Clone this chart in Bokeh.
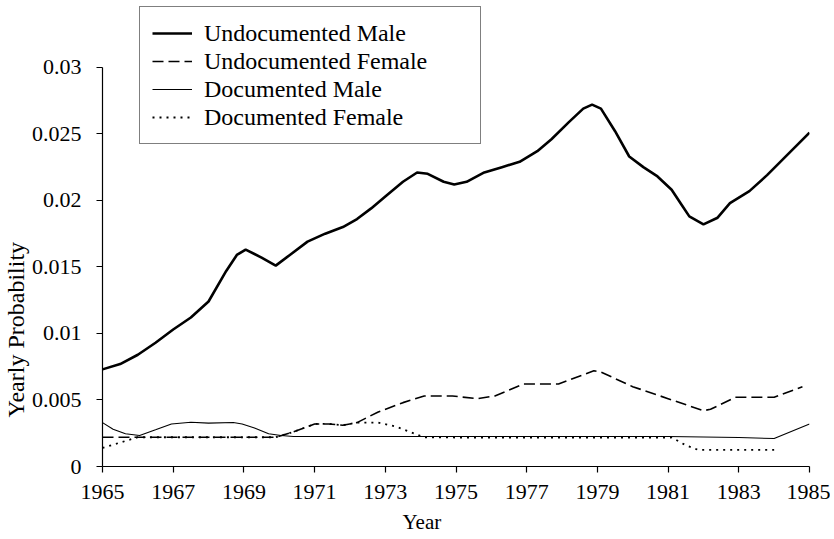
from bokeh.plotting import figure
from bokeh.models import Range1d, FixedTicker, Legend, LegendItem, Title
from bokeh.embed import file_html
from bokeh.resources import INLINE

FONT = "Liberation Serif"

# ---- data ----
x_ticks = [1965, 1967, 1969, 1971, 1973, 1975, 1977, 1979, 1981, 1983, 1985]
x_tick_labels = ["1965", "1967", "1969", "1971", "1973", "1975", "1977", "1979", "1981", "1983", "1985"]
y_ticks = [0, 0.005, 0.01, 0.015, 0.02, 0.025, 0.03]
y_tick_labels = ["0", "0.005", "0.01", "0.015", "0.02", "0.025", "0.03"]

series_names = ["Undocumented Male", "Undocumented Female", "Documented Male", "Documented Female"]

undoc_male_year = [1965, 1965.5, 1966, 1966.5, 1967, 1967.5, 1968, 1968.5, 1968.8, 1969.05, 1969.5,
                   1969.9, 1970.3, 1970.8, 1971.3, 1971.8, 1972.2, 1972.6, 1973.0, 1973.5, 1973.9,
                   1974.2, 1974.65, 1974.95, 1975.3, 1975.8, 1976.3, 1976.8, 1977.3, 1977.7, 1978.2,
                   1978.6, 1978.85, 1979.1, 1979.5, 1979.9, 1980.3, 1980.7, 1981.1, 1981.4, 1981.6,
                   1982.0, 1982.4, 1982.75, 1983.3, 1983.8, 1984.4, 1985.0]
undoc_male = [0.0073, 0.0077, 0.0084, 0.0093, 0.0103, 0.0112, 0.0124, 0.0147, 0.0159, 0.0163, 0.0157,
              0.0151, 0.0159, 0.0169, 0.0175, 0.0180, 0.0186, 0.0194, 0.0203, 0.0214, 0.0221,
              0.0220, 0.0214, 0.0212, 0.0214, 0.0221, 0.0225, 0.0229, 0.0237, 0.0246, 0.0259,
              0.0269, 0.0272, 0.0269, 0.0252, 0.0233, 0.0225, 0.0218, 0.0208, 0.0196, 0.0188,
              0.0182, 0.0187, 0.0198, 0.0207, 0.0219, 0.0235, 0.0251]

undoc_female_year = [1965, 1966, 1967, 1968, 1969, 1969.9, 1970.4, 1971.0, 1971.4, 1971.8, 1972.2,
                     1972.8, 1973.5, 1974.1, 1974.9, 1975.6, 1976.1, 1976.9, 1977.9, 1978.9, 1979.1,
                     1980.0, 1981.0, 1982.0, 1982.2, 1982.9, 1984.0, 1984.8]
undoc_female = [0.0022, 0.0022, 0.0022, 0.0022, 0.0022, 0.0022, 0.0026, 0.0032, 0.0032, 0.0031, 0.0033,
                0.0041, 0.0048, 0.0053, 0.0053, 0.0051, 0.0053, 0.0062, 0.0062, 0.0072, 0.0071,
                0.0060, 0.0051, 0.0042, 0.0043, 0.0052, 0.0052, 0.0060]

doc_male_year = [1965, 1965.3, 1965.65, 1966.05, 1966.5, 1966.95, 1967.5, 1968.0, 1968.7, 1968.95,
                 1969.3, 1969.7, 1970.05, 1970.4, 1975, 1981, 1982, 1983, 1984, 1985]
doc_male = [0.0033, 0.0028, 0.00246, 0.00233, 0.00276, 0.0032, 0.00333, 0.00326, 0.00331, 0.0032,
            0.0029, 0.00246, 0.00233, 0.00226, 0.00226, 0.00226, 0.00222, 0.00218, 0.0021, 0.0032]

doc_female_year = [1965, 1965.5, 1966, 1967, 1968, 1969, 1969.9, 1970.4, 1971.0, 1971.4, 1971.8,
                   1972.2, 1972.8, 1973.3, 1973.7, 1974.1, 1975, 1978, 1981.1, 1981.5, 1981.85,
                   1983, 1984]
doc_female = [0.0014, 0.0018, 0.0022, 0.0022, 0.0022, 0.0022, 0.0022, 0.0026, 0.0032, 0.0032, 0.0031,
              0.0033, 0.0033, 0.0030, 0.0026, 0.0022, 0.00218, 0.00218, 0.00218, 0.0016, 0.00125,
              0.00125, 0.00125]

# ---- figure ----
# frame: x 99..809 px, y 3..466 px (axis drawn only for 0..0.03)
p = figure(width=830, height=539, x_range=Range1d(1965, 1985), y_range=Range1d(0, 0.0348),
           output_backend="svg", toolbar_location=None,
           min_border_left=99, min_border_right=21, min_border_top=3, min_border_bottom=73)
p.outline_line_color = None
p.xgrid.visible = False
p.ygrid.visible = False
p.background_fill_color = "white"

for ax in (p.xaxis[0], p.yaxis[0]):
    ax.axis_line_color = "black"
    ax.axis_line_width = 1.2
    ax.major_tick_line_color = "black"
    ax.major_tick_line_width = 1.2
    ax.major_tick_in = 0
    ax.major_tick_out = 6
    ax.minor_tick_line_color = None
    ax.major_label_text_font = FONT
    ax.major_label_text_font_size = "22px"
    ax.major_label_text_color = "black"
p.xaxis.major_label_standoff = 12
p.yaxis.major_label_standoff = 15

p.yaxis.bounds = (0, 0.03)
p.xaxis.ticker = FixedTicker(ticks=x_ticks)
p.xaxis.major_label_overrides = {t: s for t, s in zip(x_ticks, x_tick_labels)}
p.yaxis.ticker = FixedTicker(ticks=y_ticks)
p.yaxis.major_label_overrides = {t: s for t, s in zip(y_ticks, y_tick_labels)}

r_um = p.line(undoc_male_year, undoc_male, line_color="black", line_width=2.6)
r_uf = p.line(undoc_female_year, undoc_female, line_color="black", line_width=1.6, line_dash="11 5")
r_dm = p.line(doc_male_year, doc_male, line_color="black", line_width=1.1)
r_df = p.line(doc_female_year, doc_female, line_color="black", line_width=1.8, line_dash="2 5")

legend = Legend(items=[LegendItem(label=n, renderers=[r]) for n, r in
                       zip(series_names, [r_um, r_uf, r_dm, r_df])],
                location=(37, 322))
legend.label_text_font = FONT
legend.label_text_font_size = "24px"
legend.label_text_color = "black"
legend.border_line_color = "black"
legend.border_line_width = 1
legend.background_fill_color = "white"
legend.background_fill_alpha = 1
legend.padding = 12
legend.margin = 0
legend.spacing = 0
legend.glyph_width = 40
legend.glyph_height = 28
legend.label_height = 28
legend.label_width = 264
legend.label_standoff = 12
p.add_layout(legend)

p.add_layout(Title(text="Year", align="left", offset=300, standoff=12,
                   text_font=FONT, text_font_size="21px", text_font_style="normal",
                   text_color="black"), "below")
p.add_layout(Title(text="Yearly Probability", align="left", offset=49, standoff=0,
                   text_font=FONT, text_font_size="24px", text_font_style="normal",
                   text_color="black"), "left")

open("out.html", "w").write(file_html(p, INLINE))
